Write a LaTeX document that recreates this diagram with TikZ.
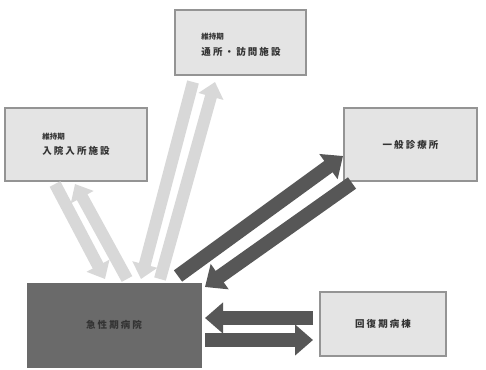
\documentclass[tikz,border=0pt]{standalone}
\usepackage{fontspec}
\usetikzlibrary{arrows.meta}
\newfontfamily\jp{Noto Sans CJK JP}
\newfontfamily\jpw[LetterSpace=22]{Noto Sans CJK JP}
\definecolor{boxfill}{HTML}{E4E4E4}
\definecolor{boxline}{HTML}{949494}
\definecolor{darkfill}{HTML}{6A6A6A}
\definecolor{darkarrow}{HTML}{575757}
\definecolor{lightarrow}{HTML}{D8D8D8}
\definecolor{txt}{HTML}{333333}
\tikzset{
  lightbox/.style={draw=boxline, line width=1.4pt, fill=boxfill, inner sep=0pt, align=left, text=txt},
  darkbox/.style={draw=darkfill, fill=darkfill, inner sep=0pt, text=txt},
  darkarr/.style={draw=darkarrow, line width=14pt, -{Triangle[width=30pt,length=18pt]}},
  lightarr/.style={draw=lightarrow, line width=12pt, -{Triangle[width=25pt,length=15pt]}},
}
\newcommand{\wl}[1]{{\jpw\bfseries\fontsize{9.5}{11}\selectfont #1}}
\newcommand{\fl}[1]{{\jp\bfseries\fontsize{7.5}{9}\selectfont #1}}
\begin{document}
\begin{tikzpicture}[x=1pt,y=-1pt]
\useasboundingbox (0,0) rectangle (486,369);
\fill[white] (0,0) rectangle (486,369);
% boxes
\node[lightbox, minimum width=131pt, minimum height=65pt] (visit) at (240.5,42.5) {};
\node[align=left, text=txt, inner sep=0pt] (visittxt) at (241,45)
  {\fl{維持期}\\[4pt]\wl{通所・訪問施設}};
\node[lightbox, minimum width=142pt, minimum height=73pt] (inpat) at (76,144.5)
  {\fl{維持期}\\[3pt]\wl{入院入所施設}};
\node[lightbox, minimum width=133pt, minimum height=73pt] (clinic) at (410.5,144.5)
  {\wl{一般診療所}};
\node[darkbox, minimum width=174pt, minimum height=84pt] (acute) at (114,325)
  {\wl{急性期病院}};
\node[lightbox, minimum width=126pt, minimum height=64pt] (recov) at (383,324)
  {\wl{回復期病棟}};
% arrow end points
\coordinate (v1s) at (193,82);  \coordinate (v1e) at (141,279);
\coordinate (v2s) at (160,279); \coordinate (v2e) at (215,82);
\coordinate (i1s) at (55,184);  \coordinate (i1e) at (105,279);
\coordinate (i2s) at (127,279); \coordinate (i2e) at (75,184);
\coordinate (c1s) at (178,276); \coordinate (c1e) at (343,156);
\coordinate (c2s) at (352,183); \coordinate (c2e) at (205,287);
\coordinate (r1s) at (313,318); \coordinate (r1e) at (205,318);
\coordinate (r2s) at (205,340); \coordinate (r2e) at (313,340);
% light arrows
\draw[lightarr] (v1s) -- (v1e);
\draw[lightarr] (v2s) -- (v2e);
\draw[lightarr] (i1s) -- (i1e);
\draw[lightarr] (i2s) -- (i2e);
% dark arrows
\draw[darkarr] (c1s) -- (c1e);
\draw[darkarr] (c2s) -- (c2e);
\draw[darkarr] (r1s) -- (r1e);
\draw[darkarr] (r2s) -- (r2e);
\end{tikzpicture}
\end{document}
